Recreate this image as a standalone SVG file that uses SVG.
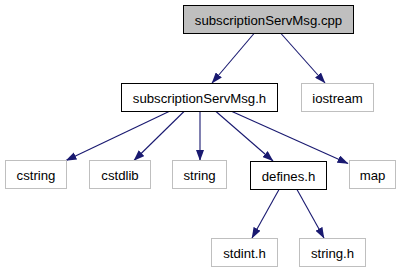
<svg xmlns="http://www.w3.org/2000/svg" width="400" height="272" viewBox="0 0 400 272">
  <style>
    .box { fill: #ffffff; stroke: #000000; stroke-width: 1; }
    .root { fill: #bfbfbf; stroke: #000000; stroke-width: 1; }
    .ext { fill: #ffffff; stroke: #bfbfbf; stroke-width: 1; }
    .lbl { font-family: "Liberation Sans", Arial, Helvetica, sans-serif; font-size: 13.2px; fill: #000000; text-anchor: middle; }
    .edge { fill: none; stroke: #191970; stroke-width: 1.1; marker-end: url(#arrow); }
  </style>
  <defs>
    <marker id="arrow" viewBox="0 0 11 8" refX="10.5" refY="4" markerWidth="11" markerHeight="8" markerUnits="userSpaceOnUse" orient="auto">
      <path d="M0,0 L11,4 L0,8 Z" fill="#191970"/>
    </marker>
  </defs>

  <g id="edges">
    <line class="edge" x1="254" y1="33.5" x2="212" y2="83"/>
    <line class="edge" x1="281" y1="33.5" x2="325" y2="83"/>
    <line class="edge" x1="169" y1="111.5" x2="66" y2="160.5"/>
    <line class="edge" x1="184" y1="111.5" x2="134" y2="160.5"/>
    <line class="edge" x1="200" y1="111.5" x2="200" y2="160.5"/>
    <line class="edge" x1="216" y1="111.5" x2="273" y2="161"/>
    <line class="edge" x1="232" y1="111.5" x2="348" y2="163.5"/>
    <line class="edge" x1="279" y1="189.5" x2="252" y2="238"/>
    <line class="edge" x1="297" y1="189.5" x2="324" y2="238"/>
  </g>

  <g id="node-cpp">
    <rect class="root" x="183.5" y="5.5" width="170" height="28"/>
    <text class="lbl" x="268.5" y="24.5">subscriptionServMsg.cpp</text>
  </g>
  <g id="node-h">
    <rect class="box" x="121.5" y="83.5" width="156" height="28"/>
    <text class="lbl" x="199.5" y="102.5">subscriptionServMsg.h</text>
  </g>
  <g id="node-iostream">
    <rect class="ext" x="301.5" y="83.5" width="72" height="28"/>
    <text class="lbl" x="337.5" y="102.5">iostream</text>
  </g>
  <g id="node-cstring">
    <rect class="ext" x="5.5" y="160.5" width="61" height="28"/>
    <text class="lbl" x="36" y="179.5">cstring</text>
  </g>
  <g id="node-cstdlib">
    <rect class="ext" x="89.5" y="160.5" width="61" height="28"/>
    <text class="lbl" x="120" y="179.5">cstdlib</text>
  </g>
  <g id="node-string">
    <rect class="ext" x="172.5" y="160.5" width="54" height="28"/>
    <text class="lbl" x="199.5" y="179.5">string</text>
  </g>
  <g id="node-defines">
    <rect class="box" x="250.5" y="161.5" width="76" height="28"/>
    <text class="lbl" x="288.5" y="180.5">defines.h</text>
  </g>
  <g id="node-map">
    <rect class="ext" x="349.5" y="160.5" width="46" height="28"/>
    <text class="lbl" x="372.5" y="179.5">map</text>
  </g>
  <g id="node-stdint">
    <rect class="ext" x="211.5" y="238.5" width="66" height="28"/>
    <text class="lbl" x="244.5" y="257.5">stdint.h</text>
  </g>
  <g id="node-stringh">
    <rect class="ext" x="299.5" y="238.5" width="66" height="28"/>
    <text class="lbl" x="332.5" y="257.5">string.h</text>
  </g>
</svg>
